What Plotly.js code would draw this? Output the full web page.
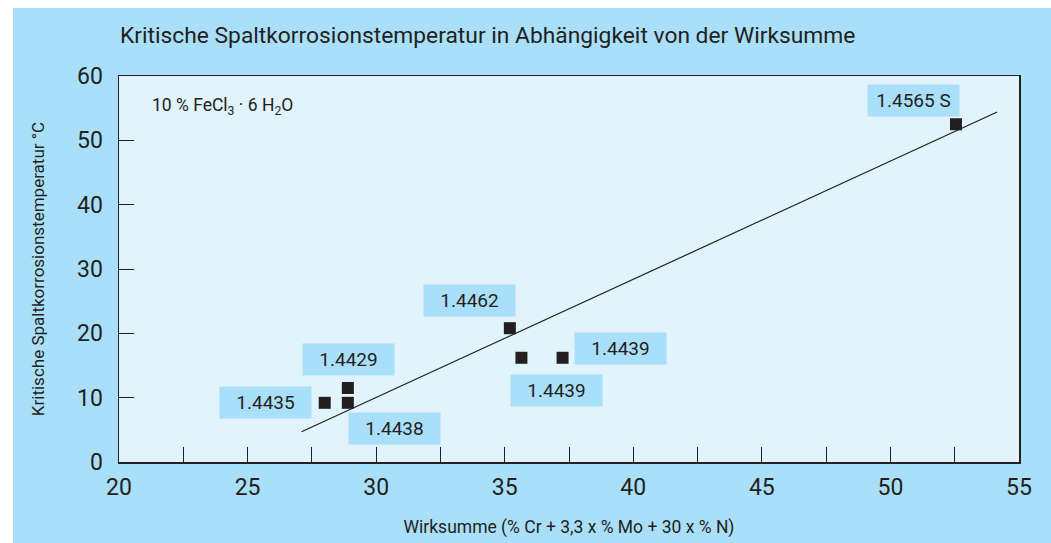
<!DOCTYPE html>
<html>
<head>
<meta charset="utf-8">
<script src="https://cdn.plot.ly/plotly-3.0.1.min.js"></script>
<style>
  html, body { margin: 0; padding: 0; background: #ffffff; width: 1051px; height: 543px; overflow: hidden; }
  #chart { position: absolute; left: 13px; top: 8px; width: 1038px; height: 535px; }
</style>
</head>
<body>
<div id="chart"></div>
<script>
// Data
const grades = ["1.4565 S", "1.4462", "1.4439", "1.4439", "1.4429", "1.4438", "1.4435"];
const wirksumme = [52.55, 35.2, 35.65, 37.25, 28.9, 28.9, 28.0];
const temperature = [52.5, 20.8, 16.2, 16.2, 11.5, 9.2, 9.2];
// regression line end points
const trendX = [27.1, 54.15];
const trendY = [4.7, 54.4];
// label offsets (pixels) from each point
const labelDx = [-43, -40, 35, 58, 1, 47, -59];
const labelDy = [24, 28, -33, 9, 29, -26, 0];

const xTicks = [20, 25, 30, 35, 40, 45, 50, 55];
const yTicks = [0, 10, 20, 30, 40, 50, 60];

const FONT = "Roboto, 'DejaVu Sans', sans-serif";
const INK = "#231f20";
const BLUE = "#aadffa";
const PALE = "#e1f3fb";

const traces = [
  {
    x: trendX, y: trendY, type: "scatter", mode: "lines",
    line: { color: INK, width: 1.2 }, hoverinfo: "skip", showlegend: false
  },
  {
    x: wirksumme, y: temperature, type: "scatter", mode: "markers",
    marker: { symbol: "square", size: 12, color: INK },
    text: grades, showlegend: false
  }
];

const annotations = grades.map((g, i) => ({
  x: wirksumme[i], y: temperature[i], xref: "x", yref: "y",
  text: g, showarrow: false,
  xshift: labelDx[i], yshift: labelDy[i],
  bgcolor: BLUE, width: 91, height: 31, borderpad: 0,
  font: { family: FONT, size: 19, color: INK }
}));

annotations.push({
  xref: "paper", yref: "paper", x: 0.034, y: 0.92, xanchor: "left", yanchor: "middle",
  text: "10 % FeCl<sub>3</sub> · 6 H<sub>2</sub>O", showarrow: false,
  font: { family: FONT, size: 17.5, color: INK }
});

const layout = {
  width: 1038, height: 535,
  paper_bgcolor: BLUE, plot_bgcolor: PALE,
  margin: { l: 106, r: 32, t: 68, b: 81 },
  title: {
    text: "Kritische Spaltkorrosionstemperatur in Abhängigkeit von der Wirksumme",
    font: { family: FONT, size: 22.8, color: INK },
    xref: "container", yref: "container", x: 107 / 1038, xanchor: "left",
    y: 1 - 27 / 535, yanchor: "middle"
  },
  xaxis: {
    range: [20, 55], tickvals: xTicks, ticks: "inside", ticklen: 15, tickwidth: 1,
    tickcolor: INK, showgrid: false, zeroline: false,
    showline: true, linecolor: INK, linewidth: 1.5, mirror: true,
    minor: { dtick: 2.5, tick0: 20, ticks: "inside", ticklen: 15, tickwidth: 1, tickcolor: INK, showgrid: false },
    tickfont: { family: FONT, size: 23, color: INK },
    ticklabelstandoff: 4,
    title: { text: "Wirksumme (% Cr + 3,3 x % Mo + 30 x % N)", font: { family: FONT, size: 17.5, color: INK }, standoff: 20 },
    fixedrange: true
  },
  yaxis: {
    range: [0, 60], tickvals: yTicks, ticks: "inside", ticklen: 15, tickwidth: 1,
    tickcolor: INK, showgrid: false, zeroline: false,
    showline: true, linecolor: INK, linewidth: 1.5, mirror: true,
    tickfont: { family: FONT, size: 23, color: INK },
    ticklabelstandoff: 10,
    title: { text: "Kritische Spaltkorrosionstemperatur °C", font: { family: FONT, size: 17, color: INK }, standoff: 28 },
    fixedrange: true
  },
  annotations: annotations,
  showlegend: false
};

Plotly.newPlot("chart", traces, layout, { displayModeBar: false, staticPlot: true });
</script>
</body>
</html>
